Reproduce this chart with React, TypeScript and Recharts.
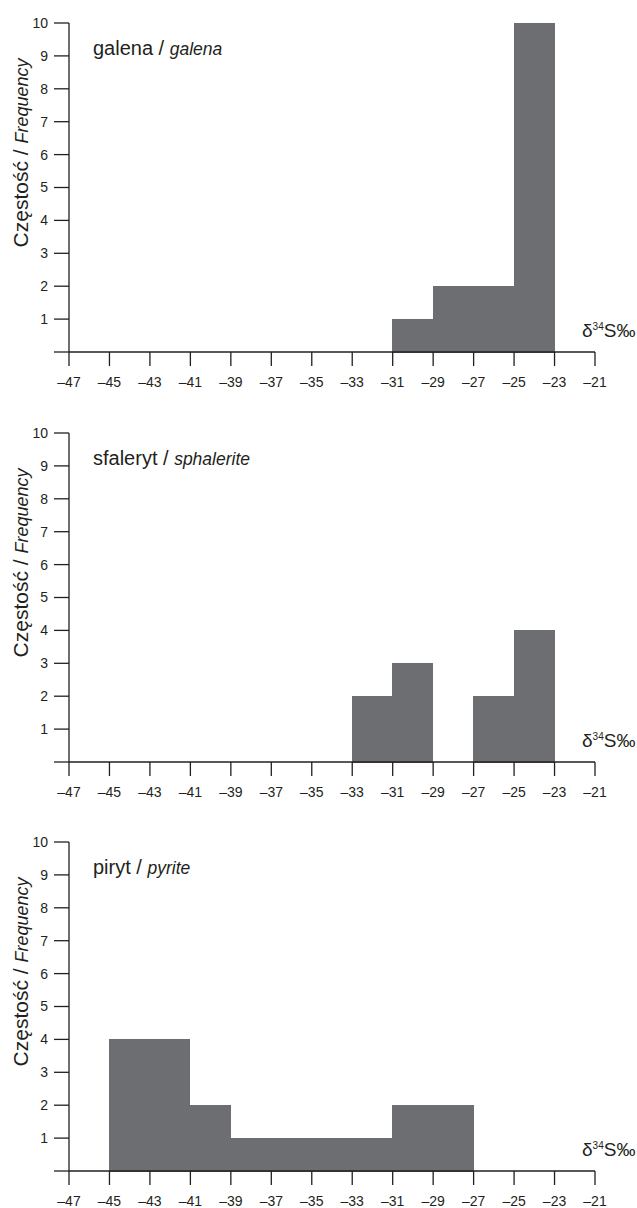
import React from 'react';
import { BarChart, Bar, XAxis, YAxis, Label } from 'recharts';

// bin centres (each bin is 2‰ wide)
const binCenters = [-46, -44, -42, -40, -38, -36, -34, -32, -30, -28, -26, -24, -22];
const xTicks = [-47, -45, -43, -41, -39, -37, -35, -33, -31, -29, -27, -25, -23, -21];
const yTicks = [0, 1, 2, 3, 4, 5, 6, 7, 8, 9, 10];

const galena = [0, 0, 0, 0, 0, 0, 0, 0, 1, 2, 2, 10, 0];
const sphalerite = [0, 0, 0, 0, 0, 0, 0, 2, 3, 0, 2, 4, 0];
const pyrite = [0, 4, 4, 2, 1, 1, 1, 1, 2, 2, 0, 0, 0];

const FONT = '"Liberation Sans", Arial, Helvetica, sans-serif';
const INK = '#231f20';
const BAR = '#6d6e71';

const panels = [
  { name: 'galena', nameEn: 'galena', values: galena, top: 0 },
  { name: 'sfaleryt', nameEn: 'sphalerite', values: sphalerite, top: 410 },
  { name: 'piryt', nameEn: 'pyrite', values: pyrite, top: 819 },
];

const Panel = ({ name, nameEn, values }: { name: string; nameEn: string; values: number[] }) => {
  const data = binCenters.map((x, i) => ({ x, n: values[i] }));

  const yLabel = (props: any) => {
    const vb = props.viewBox;
    const top = vb.y;
    const cy = top + 130;
    return (
      <g fontFamily={FONT} fill={INK}>
        <text x={28} y={cy} transform={`rotate(-90, 28, ${cy})`} textAnchor="middle" fontSize={21}>
          <tspan>Częstość / </tspan>
          <tspan fontStyle="italic" fontSize={18}>Frequency</tspan>
        </text>
        <text x={93} y={top + 32} fontSize={20}>
          <tspan>{name} / </tspan>
          <tspan fontStyle="italic" fontSize={17.5}>{nameEn}</tspan>
        </text>
      </g>
    );
  };

  const xLabel = (props: any) => {
    const vb = props.viewBox;
    return (
      <text x={vb.x + vb.width - 13} y={vb.y - 15} fontFamily={FONT} fill={INK} fontSize={19}>
        <tspan>δ</tspan>
        <tspan fontSize={10} dy={-7}>34</tspan>
        <tspan dy={7}>S‰</tspan>
      </text>
    );
  };

  return (
    <BarChart
      width={637}
      height={400}
      data={data}
      margin={{ top: 23, right: 42, left: 0, bottom: 8 }}
      barCategoryGap={0}
      barGap={0}
    >
      <XAxis
        dataKey="x"
        type="number"
        domain={[-47, -21]}
        ticks={xTicks}
        interval={0}
        height={40}
        tickSize={14}
        tickMargin={11}
        tickFormatter={(v: number) => `–${Math.abs(v)}`}
        axisLine={{ stroke: INK, strokeWidth: 1.3 }}
        tickLine={{ stroke: INK, strokeWidth: 1.3 }}
        tick={{ fill: INK, fontSize: 14, fontFamily: FONT }}
      >
        <Label content={xLabel} />
      </XAxis>
      <YAxis
        type="number"
        domain={[0, 10]}
        ticks={yTicks}
        interval={0}
        width={69}
        tickSize={15}
        tickMargin={6}
        tickFormatter={(v: number) => (v === 0 ? '' : String(v))}
        axisLine={{ stroke: INK, strokeWidth: 1.3 }}
        tickLine={{ stroke: INK, strokeWidth: 1.3 }}
        tick={{ fill: INK, fontSize: 14, fontFamily: FONT }}
      >
        <Label content={yLabel} />
      </YAxis>
      <Bar
        dataKey="n"
        fill={BAR}
        stroke={BAR}
        strokeWidth={1}
        shapeRendering="crispEdges"
        isAnimationActive={false}
      />
    </BarChart>
  );
};

export default function App() {
  return (
    <div style={{ position: 'absolute', left: 0, top: 0, width: 637, height: 1208, background: '#fff' }}>
      {panels.map((p) => (
        <div key={p.name} style={{ position: 'absolute', left: 0, top: p.top }}>
          <Panel name={p.name} nameEn={p.nameEn} values={p.values} />
        </div>
      ))}
    </div>
  );
}
